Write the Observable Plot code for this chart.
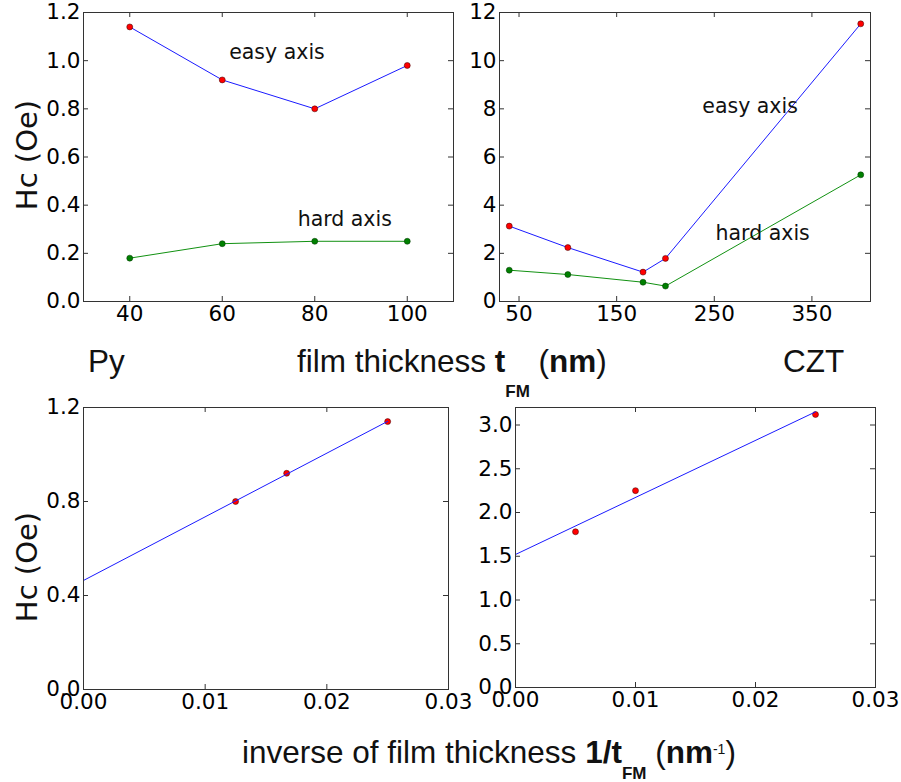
<!DOCTYPE html>
<html>
<head>
<meta charset="utf-8">
<script src="https://cdn.jsdelivr.net/npm/d3@7"></script>
<script src="https://cdn.jsdelivr.net/npm/@observablehq/plot@0.6"></script>
<style>
  html, body { margin: 0; padding: 0; background: #fff; }
  #chart { position: relative; width: 901px; height: 782px; background: #fff; overflow: hidden; }
  #chart > svg { position: absolute; left: 0; top: 0; }
</style>
</head>
<body>
<div id="chart"></div>
<script>
// Coercive field Hc versus film thickness, Py and CZT films
const pyThickness = [40, 60, 80, 100];
const pyEasy = [1.14, 0.92, 0.80, 0.98];
const pyHard = [0.18, 0.24, 0.25, 0.25];

const cztThickness = [40, 100, 177, 200, 400];
const cztEasy = [3.13, 2.24, 1.22, 1.79, 11.53];
const cztHard = [1.30, 1.12, 0.80, 0.64, 5.26];

// Easy-axis Hc against inverse thickness, with linear fit end points
const pyInverse = [0.0125, 0.0167, 0.025];
const pyInverseHc = [0.80, 0.92, 1.14];
const pyFitX = [0, 0.025];
const pyFitHc = [0.464, 1.141];

const cztInverse = [0.005, 0.010, 0.025];
const cztInverseHc = [1.78, 2.25, 3.12];
const cztFitX = [0, 0.025];
const cztFitHc = [1.52, 3.15];

// Tick values
const pyThicknessTicks = [40, 60, 80, 100];
const pyHcTicks = [0, 0.2, 0.4, 0.6, 0.8, 1.0, 1.2];
const cztThicknessTicks = [50, 150, 250, 350];
const cztHcTicks = [0, 2, 4, 6, 8, 10, 12];
const inverseTicks = [0, 0.01, 0.02, 0.03];
const pyInverseHcTicks = [0, 0.4, 0.8, 1.2];
const cztInverseHcTicks = [0, 0.5, 1.0, 1.5, 2.0, 2.5, 3.0];

// Curve annotations
const curveNames = ["easy axis", "hard axis"];
const pyNameX = [61.5, 76.3];
const pyNameY = [1.035, 0.34];
const cztNameX = [237.7, 251.3];
const cztNameY = [8.11, 2.84];

const W = 901, H = 782;
const edge = "#333";
const blue = "#1a1aff";
const green = "#119111";
const red = "#ff0000";

const toRows = (xs, ys) => xs.map((x, i) => ({x, y: ys[i]}));

function panel({box, xDomain, yDomain, xTicks, yTicks, xFormat, yFormat, marks}) {
  const [x0, x1, y0, y1] = box;
  const fw = x1 - x0, fh = y1 - y0;
  const tick = 5;
  return Plot.plot({
    width: W,
    height: H,
    marginLeft: x0,
    marginRight: W - x1,
    marginTop: y0,
    marginBottom: H - y1,
    style: {background: "transparent", fontFamily: "DejaVu Sans", fontSize: "21.5px", color: "#000", overflow: "visible"},
    x: {domain: xDomain, ticks: xTicks, tickSize: 0, tickPadding: 4, tickFormat: xFormat, label: null},
    y: {domain: yDomain, ticks: yTicks, tickSize: 0, tickPadding: 3, tickFormat: yFormat, label: null},
    marks: [
      // inward ticks on all four sides
      Plot.tickX(xTicks, {x: d => d, insetTop: fh - tick, stroke: edge}),
      Plot.tickX(xTicks, {x: d => d, insetBottom: fh - tick, stroke: edge}),
      Plot.tickY(yTicks, {y: d => d, insetRight: fw - tick, stroke: edge}),
      Plot.tickY(yTicks, {y: d => d, insetLeft: fw - tick, stroke: edge}),
      ...marks,
      Plot.frame({stroke: edge, strokeWidth: 1})
    ]
  });
}

const dotStyle = (fill) => ({x: "x", y: "y", r: 3, fill, stroke: "#300", strokeWidth: 0.5});
const nameStyle = {x: "x", y: "y", text: "t", textAnchor: "start", lineAnchor: "middle", fontSize: 20.5, fill: "#111"};

const chart = document.getElementById("chart");

// Py: Hc vs thickness
chart.append(panel({
  box: [83, 453, 12, 301],
  xDomain: [30, 110], yDomain: [0, 1.2],
  xTicks: pyThicknessTicks, yTicks: pyHcTicks,
  xFormat: d3.format("d"), yFormat: d3.format(".1f"),
  marks: [
    Plot.line(toRows(pyThickness, pyEasy), {x: "x", y: "y", stroke: blue, strokeWidth: 1}),
    Plot.line(toRows(pyThickness, pyHard), {x: "x", y: "y", stroke: green, strokeWidth: 1}),
    Plot.dot(toRows(pyThickness, pyEasy), dotStyle(red)),
    Plot.dot(toRows(pyThickness, pyHard), {...dotStyle("#008000"), stroke: "#030"}),
    Plot.text(curveNames.map((t, i) => ({t, x: pyNameX[i], y: pyNameY[i]})), nameStyle)
  ]
}));

// CZT: Hc vs thickness
chart.append(panel({
  box: [499, 870, 12, 301],
  xDomain: [30, 410], yDomain: [0, 12],
  xTicks: cztThicknessTicks, yTicks: cztHcTicks,
  xFormat: d3.format("d"), yFormat: d3.format("d"),
  marks: [
    Plot.line(toRows(cztThickness, cztEasy), {x: "x", y: "y", stroke: blue, strokeWidth: 1}),
    Plot.line(toRows(cztThickness, cztHard), {x: "x", y: "y", stroke: green, strokeWidth: 1}),
    Plot.dot(toRows(cztThickness, cztEasy), dotStyle(red)),
    Plot.dot(toRows(cztThickness, cztHard), {...dotStyle("#008000"), stroke: "#030"}),
    Plot.text(curveNames.map((t, i) => ({t, x: cztNameX[i], y: cztNameY[i]})), nameStyle)
  ]
}));

// Py: Hc vs 1/t
chart.append(panel({
  box: [83, 448, 407, 689],
  xDomain: [0, 0.03], yDomain: [0, 1.2],
  xTicks: inverseTicks, yTicks: pyInverseHcTicks,
  xFormat: d3.format(".2f"), yFormat: d3.format(".1f"),
  marks: [
    Plot.dot(toRows(pyInverse, pyInverseHc), dotStyle(red)),
    Plot.line(toRows(pyFitX, pyFitHc), {x: "x", y: "y", stroke: blue, strokeWidth: 1})
  ]
}));

// CZT: Hc vs 1/t
chart.append(panel({
  box: [515, 875, 407, 687],
  xDomain: [0, 0.03], yDomain: [0, 3.2],
  xTicks: inverseTicks, yTicks: cztInverseHcTicks,
  xFormat: d3.format(".2f"), yFormat: d3.format(".1f"),
  marks: [
    Plot.dot(toRows(cztInverse, cztInverseHc), dotStyle(red)),
    Plot.line(toRows(cztFitX, cztFitHc), {x: "x", y: "y", stroke: blue, strokeWidth: 1})
  ]
}));

// Shared labels
const labels = d3.create("svg").attr("width", W).attr("height", H);

for (const cy of [155, 567]) {
  labels.append("text")
    .attr("transform", `translate(27,${cy}) rotate(-90)`)
    .attr("text-anchor", "middle")
    .attr("dominant-baseline", "central")
    .attr("font-family", "DejaVu Sans")
    .attr("font-size", 29)
    .attr("fill", "#111")
    .text("Hc (Oe)");
}

const sans = "Liberation Sans";
const big = 31.5;
labels.append("text").attr("x", 88).attr("y", 372)
  .attr("font-family", sans).attr("font-size", big).attr("fill", "#111").text("Py");
labels.append("text").attr("x", 783).attr("y", 372)
  .attr("font-family", sans).attr("font-size", big).attr("fill", "#111").text("CZT");

const thicknessLabel = labels.append("text").attr("x", 297).attr("y", 372)
  .attr("font-family", sans).attr("font-size", big).attr("fill", "#111");
thicknessLabel.append("tspan").text("film thickness ");
thicknessLabel.append("tspan").attr("font-weight", "bold").text("t");
thicknessLabel.append("tspan").attr("font-weight", "bold").attr("font-size", 17).attr("dy", 25).text("FM");
thicknessLabel.append("tspan").attr("dy", -25).text(" (");
thicknessLabel.append("tspan").attr("font-weight", "bold").text("nm");
thicknessLabel.append("tspan").text(")");

const inverseLabel = labels.append("text").attr("x", 242).attr("y", 763)
  .attr("font-family", sans).attr("font-size", big).attr("fill", "#111");
inverseLabel.append("tspan").text("inverse of film thickness ");
inverseLabel.append("tspan").attr("font-weight", "bold").text("1/t");
inverseLabel.append("tspan").attr("font-weight", "bold").attr("font-size", 17).attr("dy", 16).text("FM");
inverseLabel.append("tspan").attr("dy", -16).text(" (");
inverseLabel.append("tspan").attr("font-weight", "bold").text("nm");
inverseLabel.append("tspan").attr("font-size", 14).attr("dy", -9).text("-1");
inverseLabel.append("tspan").attr("dy", 9).text(")");

chart.append(labels.node());
</script>
</body>
</html>
